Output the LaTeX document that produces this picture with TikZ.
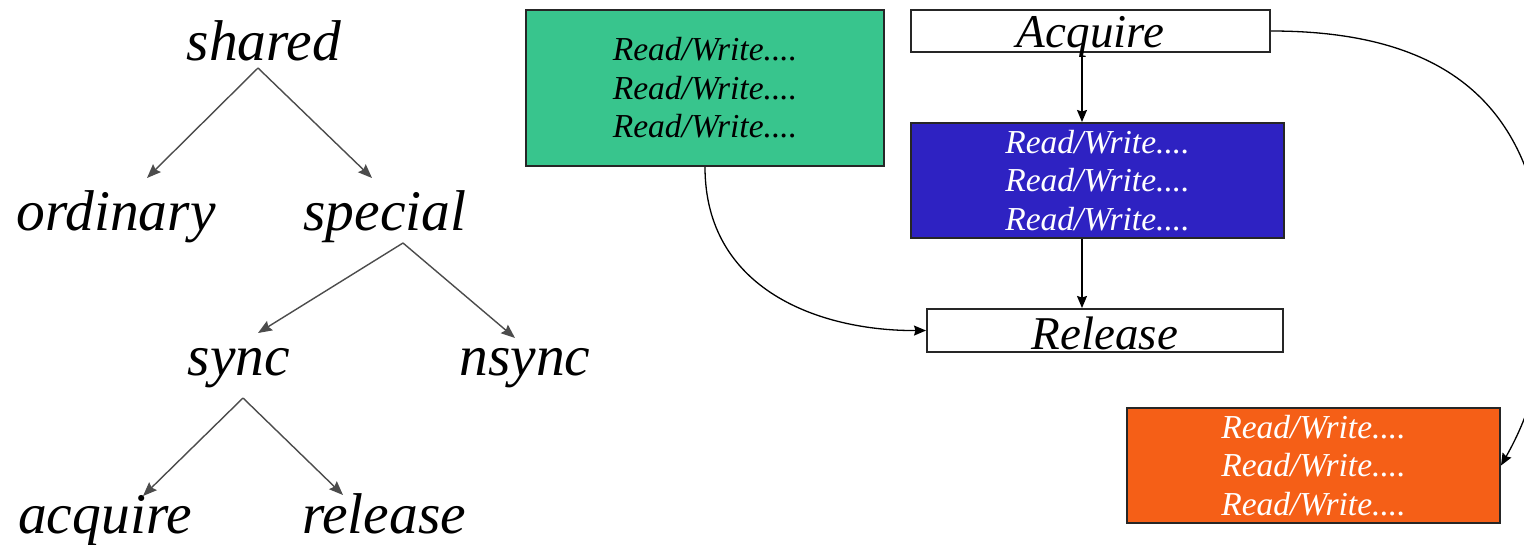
\documentclass[tikz,border=0pt]{standalone}
\usepackage{fontspec}
\setmainfont{Liberation Serif}
\usetikzlibrary{arrows.meta}
\definecolor{boxgreen}{RGB}{56,197,141}
\definecolor{boxblue}{RGB}{46,34,194}
\definecolor{boxorange}{RGB}{245,95,23}
\begin{document}
\begin{tikzpicture}[x=1pt,y=-1pt,
  treelbl/.style={inner sep=0pt, anchor=base, font=\fontsize{57.5}{60}\selectfont\itshape},
  treearrow/.style={draw=black!70, line width=1.4pt, -{Stealth[length=14pt,width=11pt,inset=2pt]}},
  flowarrow/.style={draw=black, line width=1.3pt, -{Stealth[length=12pt,width=10pt,inset=1.5pt]}},
  rwbox/.style={draw=black!85, line width=2pt, align=center, inner sep=0pt,
    font=\fontsize{33.5}{38.5}\selectfont\itshape, minimum width=#1},
  rwbox/.default=358pt,
  labbox/.style={draw=black!85, line width=2pt, fill=white, inner sep=0pt,
    font=\fontsize{47}{50}\selectfont\itshape}]
\clip (0,0) rectangle (1524,544);
\fill[white] (0,0) rectangle (1524,544);

% ---------- tree ----------
\node[treelbl] (shared)   at (264,60)  {shared};
\node[treelbl] (ordinary) at (116,230) {ordinary};
\node[treelbl] (special)  at (385,230) {special};
\node[treelbl] (sync)     at (239,375) {sync};
\node[treelbl] (nsync)    at (525,375) {nsync};
\node[treelbl] (acquire)  at (105,533) {acquire};
\node[treelbl] (release)  at (384,533) {release};

\coordinate (sharedA)   at (258,68);
\coordinate (ordinaryT) at (147,178);
\coordinate (specialT)  at (372,178);
\coordinate (specialA)  at (403,243);
\coordinate (syncT)     at (258,333);
\coordinate (nsyncT)    at (515,338);
\coordinate (syncA)     at (243,398);
\coordinate (acquireT)  at (143,496);
\coordinate (releaseT)  at (343,495);

\draw[treearrow] (sharedA) -- (ordinaryT);
\draw[treearrow] (sharedA) -- (specialT);
\draw[treearrow] (specialA) -- (syncT);
\draw[treearrow] (specialA) -- (nsyncT);
\draw[treearrow] (syncA) -- (acquireT);
\draw[treearrow] (syncA) -- (releaseT);

% ---------- boxes ----------
\node[rwbox=358pt, fill=boxgreen, minimum height=156pt, text=black] (rw1) at (705,88)
  {Read/Write....\\Read/Write....\\Read/Write....};
\node[rwbox=373pt, fill=boxblue, minimum height=115pt, text=white] (rw2) at (1097.5,180.5)
  {Read/Write....\\Read/Write....\\Read/Write....};
\node[rwbox=373pt, fill=boxorange, minimum height=115pt, text=white] (rw3) at (1313.5,465.5)
  {Read/Write....\\Read/Write....\\Read/Write....};

\node[labbox, minimum width=359pt, minimum height=42pt, text height=34pt, text depth=2pt] (acq) at (1090.5,31) {Acquire};
\node[labbox, minimum width=356pt, minimum height=43pt, text height=38pt, text depth=1pt] (rel) at (1105,330.5) {Release};

% ---------- connectors ----------
\coordinate (vx) at (1082,0);
\draw[flowarrow] (acq.south -| vx) -- (rw2.north -| vx);
\draw[flowarrow] (rw2.south -| vx) -- (rel.north -| vx);
\draw[flowarrow] (rw1.south) .. controls (705,290) and (820,331) .. (rel.west);
\draw[flowarrow] (acq.east) .. controls (1440,31) and (1518,100) .. (1540,220)
   .. controls (1562,340) and (1527,420) .. (rw3.east);
\end{tikzpicture}
\end{document}
